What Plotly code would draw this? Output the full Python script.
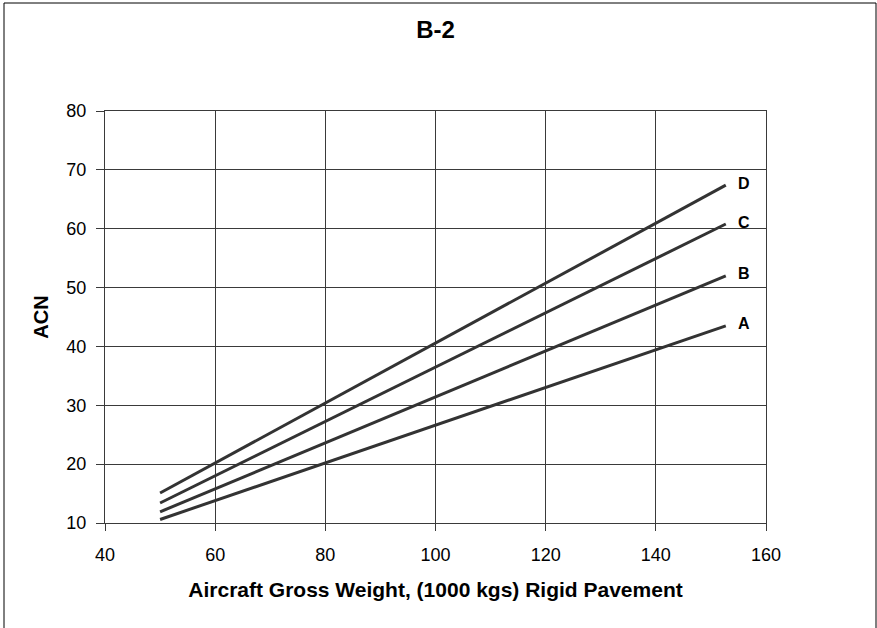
import plotly.graph_objects as go

weights = [50, 152.7]
series_names = ["A", "B", "C", "D"]
acn_A = [10.6, 43.5]
acn_B = [11.9, 52.0]
acn_C = [13.4, 60.8]
acn_D = [15.1, 67.4]
x_ticks = [40, 60, 80, 100, 120, 140, 160]
y_ticks = [10, 20, 30, 40, 50, 60, 70, 80]

FONT = "Arial, Liberation Sans, sans-serif"

fig = go.Figure()
for name, vals in zip(series_names, [acn_A, acn_B, acn_C, acn_D]):
    fig.add_trace(go.Scatter(x=weights, y=vals, mode="lines", name=name,
                             line=dict(color="#333333", width=3), showlegend=False))
    fig.add_annotation(x=weights[-1], y=vals[-1], text="<b>%s</b>" % name,
                       showarrow=False, xanchor="left", xshift=10, yshift=2,
                       font=dict(family=FONT, size=16, color="black"))

fig.update_layout(
    width=877, height=628,
    margin=dict(l=105, r=111, t=111, b=105),
    paper_bgcolor="white", plot_bgcolor="white",
    title=dict(text="<b>B-2</b>", x=0.5, xanchor="center", xref="paper",
               y=1 - 30 / 628, yanchor="middle",
               font=dict(family=FONT, size=24, color="black")),
    font=dict(family=FONT, size=18, color="black"),
)
fig.update_xaxes(range=[40, 160], tickvals=x_ticks, showgrid=True, gridcolor="#3a3a3a", gridwidth=1,
                 showline=True, linecolor="#3a3a3a", linewidth=1, mirror=True,
                 ticks="outside", ticklen=7, tickcolor="#3a3a3a", zeroline=False,
                 tickfont=dict(size=18), ticklabelstandoff=8,
                 title=dict(text="<b>Aircraft Gross Weight, (1000 kgs) Rigid Pavement</b>",
                            font=dict(size=21), standoff=18))
fig.update_yaxes(range=[10, 80], tickvals=y_ticks, showgrid=True, gridcolor="#3a3a3a", gridwidth=1,
                 showline=True, linecolor="#3a3a3a", linewidth=1, mirror=True,
                 ticks="outside", ticklen=8, tickcolor="#3a3a3a", zeroline=False,
                 tickfont=dict(size=18), ticklabelstandoff=6,
                 title=dict(text="<b>ACN</b>", font=dict(size=20), standoff=12))
fig.add_shape(type="rect", xref="paper", yref="paper",
              x0=(4 - 105) / 661, x1=(876 - 105) / 661,
              y0=(523 - 640) / 412, y1=(523 - 3) / 412,
              line=dict(color="black", width=1), fillcolor="rgba(0,0,0,0)")
fig.write_html("out.html", config={"displayModeBar": False},
               post_script="document.body.style.margin='0px';")
